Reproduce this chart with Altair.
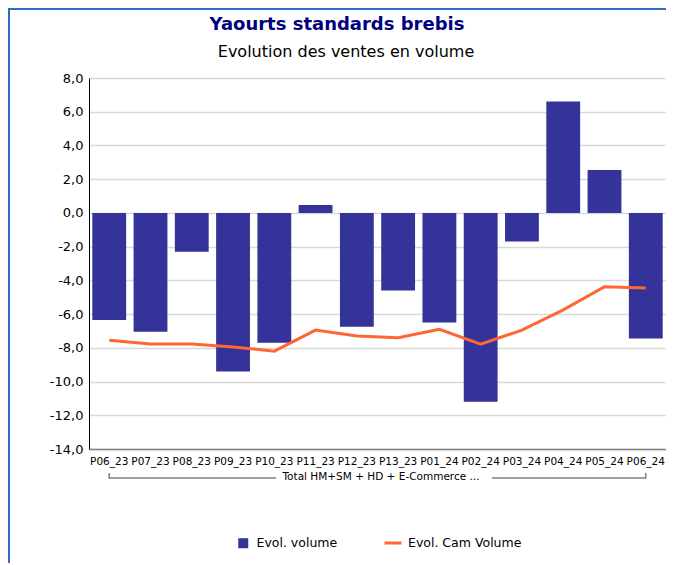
import altair as alt
import pandas as pd

periods = ["P06_23", "P07_23", "P08_23", "P09_23", "P10_23", "P11_23", "P12_23",
           "P13_23", "P01_24", "P02_24", "P03_24", "P04_24", "P05_24", "P06_24"]
evol_volume = [-6.35, -7.05, -2.3, -9.4, -7.7, 0.47, -6.75, -4.6, -6.5, -11.2, -1.7, 6.6, 2.55, -7.45]
evol_cam_volume = [-7.55, -7.78, -7.78, -7.95, -8.2, -6.95, -7.3, -7.4, -6.9, -7.78, -6.95, -5.75, -4.38, -4.45]
y_ticks = [-14, -12, -10, -8, -6, -4, -2, 0, 2, 4, 6, 8]
series_bar = "Evol. volume"
series_line = "Evol. Cam Volume"
group_label = "Total HM+SM + HD + E-Commerce ..."
title_text = "Yaourts standards brebis"
subtitle_text = "Evolution des ventes en volume"

FONT = "DejaVu Sans"
W, H = 577, 371
PAD_L, PAD_T, PAD_B = 81, 70, 114

df = pd.DataFrame({"period": periods, "vol": evol_volume, "cam": evol_cam_volume,
                   "s1": series_bar, "s2": series_line})
first_df = pd.DataFrame({"period": [periods[0]]})
last_df = pd.DataFrame({"period": [periods[-1]]})
ends_df = pd.DataFrame({"period": [periods[0], periods[-1]]})
one_df = pd.DataFrame({"label": [group_label], "title": [title_text], "subtitle": [subtitle_text]})

xscale = alt.Scale(paddingInner=0.18, paddingOuter=0.08)
x_axis = alt.Axis(title=None, labelAngle=0, ticks=False, domainColor="#808080", domainWidth=1.5,
                  labelFontSize=10.5, labelPadding=7, labelColor="#000", grid=False,
                  labelOverlap=False, labelFont=FONT)
x = alt.X("period:N", sort=periods, scale=xscale, axis=x_axis)

yscale = alt.Scale(domain=[-14, 8], nice=False, zero=False)
y_axis = alt.Axis(title=None, values=y_ticks, ticks=False, domainColor="#000", domainWidth=1,
                  gridColor="#d9d9d9", gridWidth=1.5, labelFontSize=13, labelPadding=6,
                  labelColor="#000", labelFont=FONT,
                  labelExpr="replace(replace(format(datum.value, '.1f'), '.', ','), '\u2212', '-')")

bars = alt.Chart(df).mark_bar().encode(
    x=x,
    y=alt.Y("vol:Q", scale=yscale, axis=y_axis),
    color=alt.Color("s1:N", scale=alt.Scale(domain=[series_bar], range=["#333399"]),
                    legend=alt.Legend(title=None, orient="none", legendX=148, legendY=459,
                                      symbolType="square", symbolSize=100, symbolStrokeWidth=0,
                                      labelFontSize=12.5, labelFont=FONT, labelColor="#000",
                                      labelOffset=7)),
)

line = alt.Chart(df).mark_line(strokeWidth=3).encode(
    x=x,
    y=alt.Y("cam:Q", scale=yscale, axis=y_axis),
    stroke=alt.Stroke("s2:N", scale=alt.Scale(domain=[series_line], range=["#ff6633"]),
                      legend=alt.Legend(title=None, orient="none", legendX=294, legendY=455,
                                        symbolType="stroke", symbolSize=289, symbolStrokeWidth=3,
                                        labelFontSize=12.5, labelFont=FONT, labelColor="#000",
                                        labelOffset=5)),
)

bracket_color = "#808080"
left_seg = alt.Chart(first_df).mark_rule(color=bracket_color, strokeWidth=1.5).encode(
    x=alt.X("period:N", sort=periods, scale=xscale, axis=x_axis),
    x2=alt.value(187), y=alt.value(H + 29))
right_seg = alt.Chart(last_df).mark_rule(color=bracket_color, strokeWidth=1.5).encode(
    x=alt.X("period:N", sort=periods, scale=xscale, axis=x_axis),
    x2=alt.value(403), y=alt.value(H + 29))
ticks = alt.Chart(ends_df).mark_rule(color=bracket_color, strokeWidth=1.5).encode(
    x=alt.X("period:N", sort=periods, scale=xscale, axis=x_axis),
    y=alt.value(H + 24), y2=alt.value(H + 29.7))
group_text = alt.Chart(one_df).mark_text(fontSize=10.5, font=FONT, color="#000",
                                         baseline="middle", align="center").encode(
    x=alt.value(292), y=alt.value(H + 28), text="label:N")

title_mark = alt.Chart(one_df).mark_text(fontSize=18, font=FONT, fontWeight="bold", color="#000080",
                                         baseline="alphabetic", align="center").encode(
    x=alt.value(248), y=alt.value(-48), text="title:N")
subtitle_mark = alt.Chart(one_df).mark_text(fontSize=16, font=FONT, color="#000",
                                            baseline="alphabetic", align="center").encode(
    x=alt.value(257), y=alt.value(-21), text="subtitle:N")

border_left = alt.Chart(one_df).mark_rule(color="#2e6dbf", strokeWidth=2).encode(
    x=alt.value(-PAD_L + 1), y=alt.value(-PAD_T), y2=alt.value(H + PAD_B))
border_top = alt.Chart(one_df).mark_rule(color="#2e6dbf", strokeWidth=2).encode(
    y=alt.value(-PAD_T + 1), x=alt.value(-PAD_L), x2=alt.value(W))

chart = alt.layer(bars, line, left_seg, right_seg, ticks, group_text, title_mark, subtitle_mark,
                  border_left, border_top).properties(
    width=W, height=H,
    padding={"left": PAD_L, "top": PAD_T, "right": 0, "bottom": PAD_B},
    autosize=alt.AutoSizeParams(type="none"),
).configure_view(stroke=None).configure(font=FONT)

chart.save("out.html", embed_options={"renderer": "svg", "actions": False})
